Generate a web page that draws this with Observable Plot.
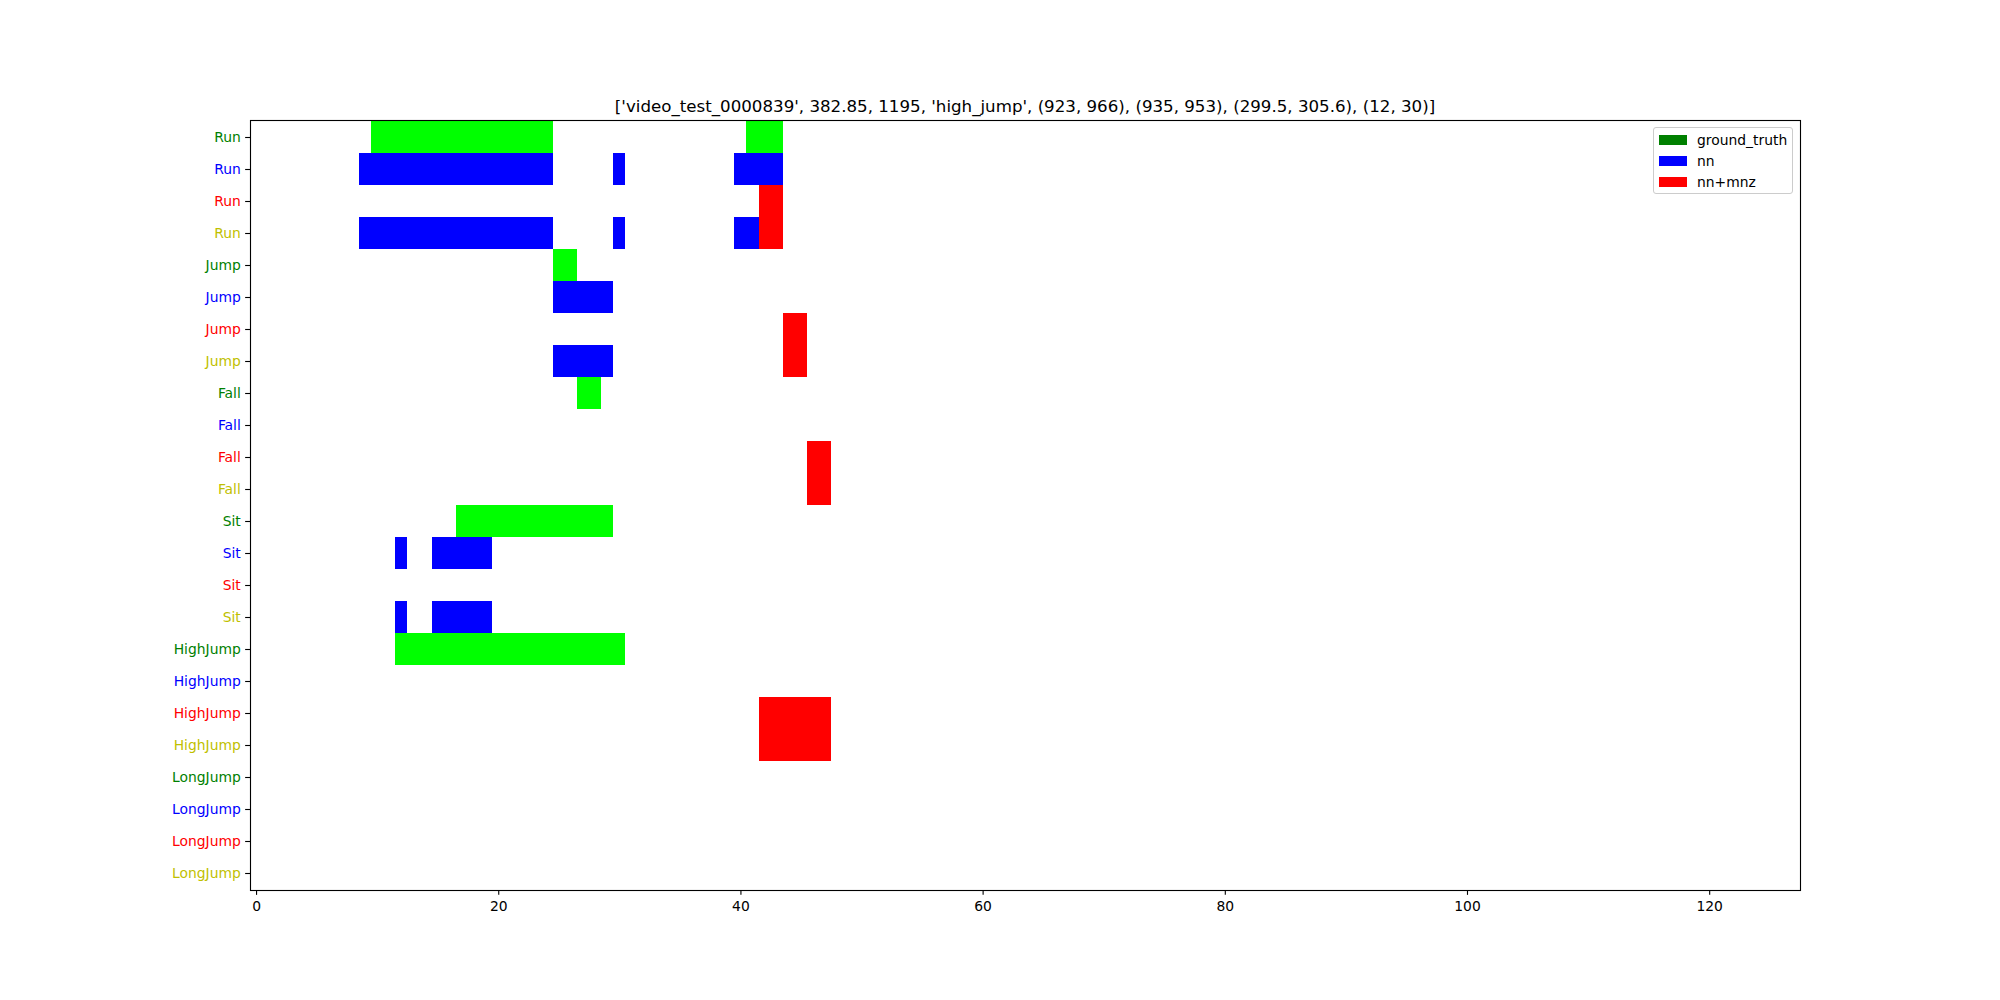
<!DOCTYPE html>
<html>
<head>
<meta charset="utf-8">
<script src="https://cdn.jsdelivr.net/npm/d3@7"></script>
<script src="https://cdn.jsdelivr.net/npm/@observablehq/plot@0.6"></script>
<style>
  body { margin: 0; background: #fff; }
  #wrap { position: relative; width: 2000px; height: 1000px; font-family: "DejaVu Sans", sans-serif; }
  #title { position: absolute; left: 250px; width: 1550px; top: 97px; text-align: center; font-size: 16.67px; color: #000; white-space: nowrap; }
  #legend { position: absolute; left: 1653px; top: 127px; width: 140px; height: 67px; border: 1px solid #cccccc; border-radius: 3px; background: rgba(255,255,255,0.8); box-sizing: border-box; font-size: 13.89px; }
  .lg { position: absolute; left: 5px; height: 16px; display: flex; align-items: center; }
  .sw { width: 28px; height: 9.7px; margin-right: 10px; }
</style>
</head>
<body>
<div id="wrap">
  <div id="chart"></div>
  <div id="title"></div>
  <div id="legend"></div>
</div>
<script>
// ---- data ----
const classes = ["Run", "Jump", "Fall", "Sit", "HighJump", "LongJump"];
const labelColors = ["#008000", "#0000ff", "#ff0000", "#bfbf00"];
const xTicks = [0, 20, 40, 60, 80, 100, 120];
const titleText = "['video_test_0000839', 382.85, 1195, 'high_jump', (923, 966), (935, 953), (299.5, 305.6), (12, 30)]";
const seriesNames = ["ground_truth", "nn", "nn+mnz"];
const legendColors = ["#008000", "#0000ff", "#ff0000"];
const barColors = ["#00ff00", "#0000ff", "#ff0000"];
// [class, start, end]
const gtSegments = [
  ["Run", 9.5, 24.5], ["Run", 40.5, 43.5],
  ["Jump", 24.5, 26.5],
  ["Fall", 26.5, 28.5],
  ["Sit", 16.5, 29.5],
  ["HighJump", 11.5, 30.5]
];
const nnSegments = [
  ["Run", 8.5, 24.5], ["Run", 29.5, 30.5], ["Run", 39.5, 43.5],
  ["Jump", 24.5, 29.5],
  ["Sit", 11.5, 12.5], ["Sit", 14.5, 19.5]
];
const mnzSegments = [
  ["Run", 41.5, 43.5],
  ["Jump", 43.5, 45.5],
  ["Fall", 45.5, 47.5],
  ["HighJump", 41.5, 47.5]
];

// ---- build tables ----
const rows = classes.flatMap(c => [0, 1, 2, 3].map(k => ({id: c + "#" + k, label: c, color: labelColors[k]})));
const rowIds = rows.map(r => r.id);
const bars = [];
gtSegments.forEach(([c, s, e]) => bars.push({row: c + "#0", x1: s, x2: e, color: barColors[0]}));
nnSegments.forEach(([c, s, e]) => bars.push({row: c + "#1", x1: s, x2: e, color: barColors[1]}));
nnSegments.forEach(([c, s, e]) => bars.push({row: c + "#3", x1: s, x2: e, color: barColors[1]}));
mnzSegments.forEach(([c, s, e]) => bars.push({row: c + "#2", x1: s, x2: e, color: barColors[2]}));
mnzSegments.forEach(([c, s, e]) => bars.push({row: c + "#3", x1: s, x2: e, color: barColors[2]}));

const chart = Plot.plot({
  width: 2000,
  height: 1000,
  marginLeft: 250,
  marginRight: 200,
  marginTop: 120,
  marginBottom: 110,
  style: {fontFamily: "DejaVu Sans, sans-serif", fontSize: "13.89px", background: "white", color: "black"},
  x: {domain: [-0.5, 127.5], axis: null},
  y: {type: "band", domain: rowIds, padding: 0, axis: null},
  color: {type: "identity"},
  marks: [
    Plot.barX(bars, {x1: "x1", x2: "x2", y: "row", fill: "color", shapeRendering: "crispEdges"}),
    Plot.axisX({ticks: xTicks, tickSize: 4.86, tickPadding: 5.5, strokeWidth: 1.11, label: null, fontSize: 13.89}),
    Plot.axisY({tickSize: 4.86, tickFormat: () => "", strokeWidth: 1.11, label: null}),
    Plot.text(rows, {y: "id", text: "label", fill: "color", frameAnchor: "left", textAnchor: "end", dx: -9.7, fontSize: 13.89}),
    Plot.frame({stroke: "black", strokeWidth: 1.11})
  ]
});
document.getElementById("chart").appendChild(chart);
document.getElementById("title").textContent = titleText;

const legend = document.getElementById("legend");
seriesNames.forEach((name, i) => {
  const row = document.createElement("div");
  row.className = "lg";
  row.style.top = (4 + i * 21) + "px";
  const sw = document.createElement("div");
  sw.className = "sw";
  sw.style.background = legendColors[i];
  const t = document.createElement("span");
  t.textContent = name;
  row.appendChild(sw);
  row.appendChild(t);
  legend.appendChild(row);
});
</script>
</body>
</html>
